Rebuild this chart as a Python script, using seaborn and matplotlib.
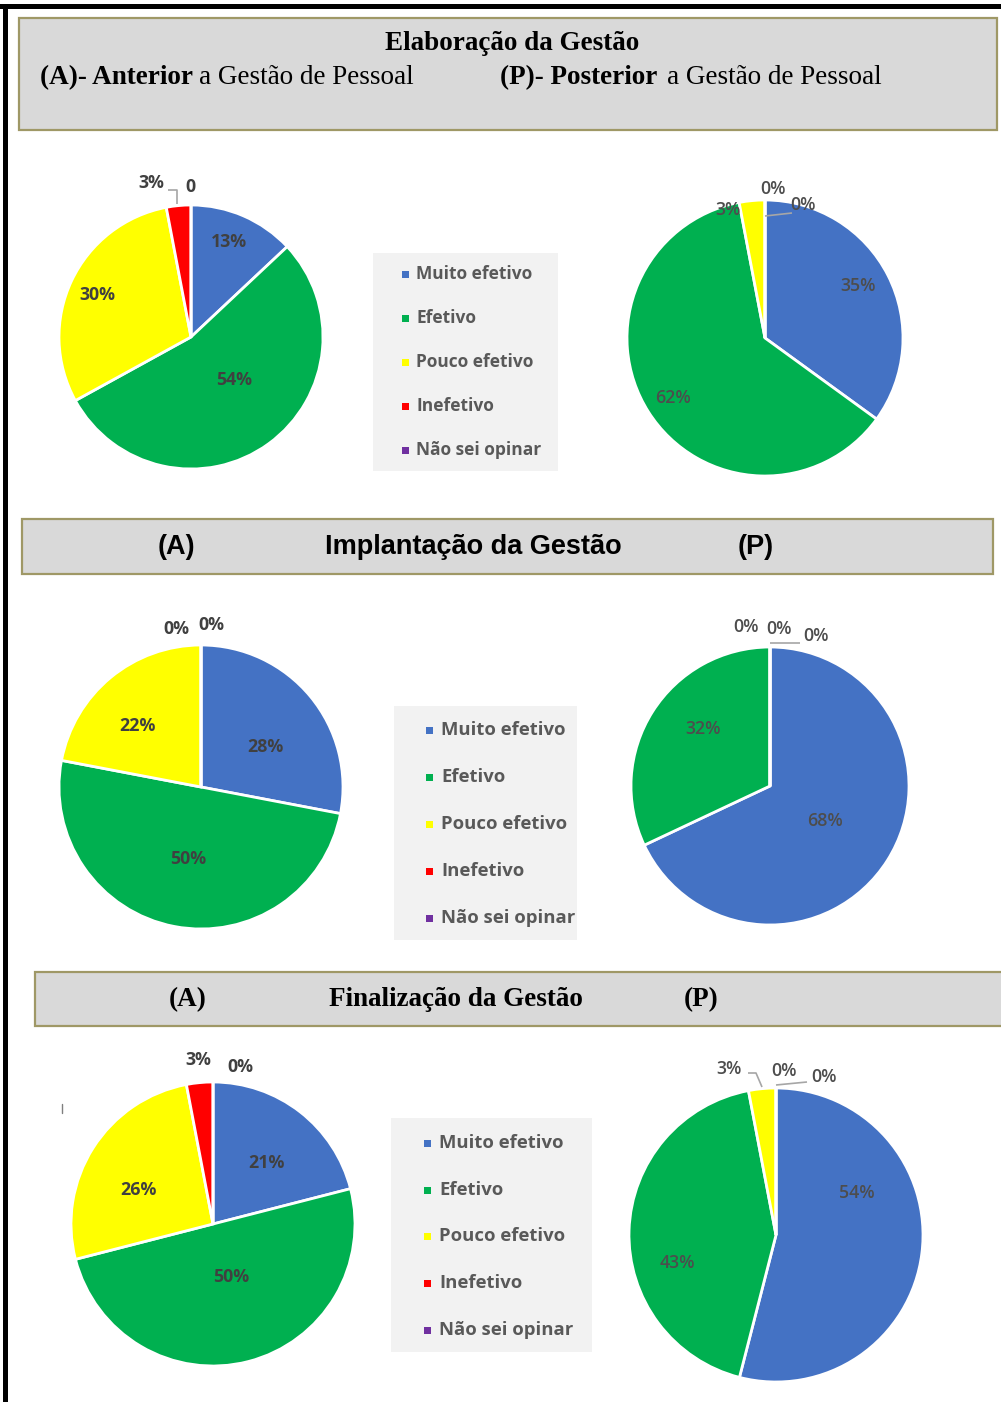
import matplotlib
matplotlib.use("Agg")
import matplotlib.pyplot as plt
import seaborn as sns
from matplotlib.patches import Rectangle

# ---------------- data ----------------
categories = ["Muito efetivo", "Efetivo", "Pouco efetivo", "Inefetivo", "Não sei opinar"]
elab_anterior = [13, 54, 30, 3, 0]
elab_posterior = [35, 62, 3, 0, 0]
impl_anterior = [28, 50, 22, 0, 0]
impl_posterior = [68, 32, 0, 0, 0]
fin_anterior = [21, 50, 26, 3, 0]
fin_posterior = [54, 43, 3, 0, 0]

sns.set_theme(style="white")
palette = sns.color_palette(["#4472c4", "#00b050", "#ffff00", "#ff0000", "#7030a0"])

W, H = 1001, 1402
fig = plt.figure(figsize=(W / 100, H / 100), dpi=100)
fig.patch.set_facecolor("white")

SANS = ["Open Sans", "DejaVu Sans"]
SERIF = ["Liberation Serif", "DejaVu Serif"]
ARIAL = ["Liberation Sans", "DejaVu Sans"]

# background overlay (pixel coordinates)
bg = fig.add_axes([0, 0, 1, 1])
bg.set_xlim(0, W); bg.set_ylim(H, 0); bg.axis("off")

# outer black frame pieces
bg.add_patch(Rectangle((0, 4), W, 4.5, color="black", lw=0))
bg.add_patch(Rectangle((3, 4), 5, H, color="black", lw=0))

BANNER_FC = "#d9d9d9"
BANNER_EC = "#9f9866"

def banner(x0, y0, x1, y1):
    bg.add_patch(Rectangle((x0, y0), x1 - x0, y1 - y0, facecolor=BANNER_FC,
                           edgecolor=BANNER_EC, lw=1.6))

banner(19, 18, 997, 130)
banner(22, 519, 993, 574)
banner(35, 972, 1010, 1026)

FS_T = 19.5
# banner 1 texts
bg.text(512, 43, "Elaboração da Gestão", ha="center", va="center",
        family=SERIF, fontweight="bold", fontsize=FS_T, color="black")
bg.text(40, 78, "(A)- Anterior", ha="left", va="center",
        family=SERIF, fontweight="bold", fontsize=FS_T, color="black")
bg.text(199, 78, "a Gestão de Pessoal", ha="left", va="center",
        family=SERIF, fontsize=FS_T, color="black")
bg.text(500, 78, "(P)- Posterior", ha="left", va="center",
        family=SERIF, fontweight="bold", fontsize=FS_T, color="black")
bg.text(667, 78, "a Gestão de Pessoal", ha="left", va="center",
        family=SERIF, fontsize=FS_T, color="black")

# banner 2 texts
for x, s in [(176, "(A)"), (473, "Implantação da Gestão"), (756, "(P)")]:
    bg.text(x, 547, s, ha="center", va="center", family=ARIAL,
            fontweight="bold", fontsize=FS_T, color="black")

# banner 3 texts
for x, s in [(188, "(A)"), (456, "Finalização da Gestão"), (701, "(P)")]:
    bg.text(x, 1000, s, ha="center", va="center", family=SERIF,
            fontweight="bold", fontsize=FS_T, color="black")

# legend boxes
legends = [
    dict(box=(373, 253, 558, 471), ys=[274, 318, 362, 406, 450], mx=405, tx=416, fs=12.5),
    dict(box=(394, 706, 577, 940), ys=[730, 777, 824, 871, 918], mx=429, tx=441, fs=13.3),
    dict(box=(391, 1118, 592, 1352), ys=[1143, 1190, 1236, 1283, 1330], mx=427, tx=439, fs=13.3),
]
for lg in legends:
    x0, y0, x1, y1 = lg["box"]
    bg.add_patch(Rectangle((x0, y0), x1 - x0, y1 - y0, facecolor="#f2f2f2", lw=0))

# ---------------- pies ----------------
pies = [
    dict(vals=elab_anterior, c=(191, 337), r=132, A=True,
         pos=[(229, 242), (234, 380), (97, 295), (151, 183), (190, 187)], zero_label="0"),
    dict(vals=elab_posterior, c=(765, 338), r=138, A=False,
         pos=[(858, 286), (673, 398), (728, 210), (773, 189), (803, 205)]),
    dict(vals=impl_anterior, c=(201, 787), r=142, A=True,
         pos=[(265, 747), (188, 859), (137, 726), (176, 629), (211, 625)]),
    dict(vals=impl_posterior, c=(770, 786), r=139, A=False,
         pos=[(825, 821), (703, 729), (746, 627), (779, 629), (816, 636)]),
    dict(vals=fin_anterior, c=(213, 1224), r=142, A=True,
         pos=[(266, 1163), (231, 1277), (138, 1190), (198, 1060), (240, 1067)]),
    dict(vals=fin_posterior, c=(776, 1235), r=147, A=False,
         pos=[(857, 1193), (677, 1263), (729, 1069), (784, 1071), (824, 1077)]),
]

for p in pies:
    cx, cy = p["c"]; r = p["r"]
    ax = fig.add_axes([(cx - r) / W, 1 - (cy + r) / H, 2 * r / W, 2 * r / H])
    ax.pie(p["vals"], colors=palette, startangle=90, counterclock=False,
           radius=1, wedgeprops=dict(edgecolor="white", linewidth=2))
    ax.set_xlim(-1.0, 1.0); ax.set_ylim(-1.0, 1.0)
    ax.axis("off")
    for w in ax.patches:
        w.set_clip_on(False)

# ---------------- overlay: labels, leaders, legend items ----------------
ov = fig.add_axes([0, 0, 1, 1])
ov.set_xlim(0, W); ov.set_ylim(H, 0); ov.axis("off"); ov.patch.set_alpha(0)

for p in pies:
    for i, (v, (x, y)) in enumerate(zip(p["vals"], p["pos"])):
        s = f"{v}%"
        if i == 4 and p.get("zero_label"):
            s = p["zero_label"]
        if p["A"]:
            ov.text(x, y, s, ha="center", va="center", family=SANS,
                    fontweight="bold", fontsize=12.8, color="#404040")
        else:
            ov.text(x, y, s, ha="center", va="center", family=SANS,
                    fontweight="semibold", fontsize=12.8, color="#4d4d4d")

LEAD = "#a6a6a6"
leaders = [
    [(168, 190), (177, 190), (177, 204)],
    [(765, 216), (792, 213)],
    [(770, 643), (800, 643)],
    [(748, 1073), (756, 1073), (762, 1087)],
    [(776, 1085), (807, 1082)],
]
for pts in leaders:
    xs, ys = zip(*pts)
    ov.plot(xs, ys, color=LEAD, lw=1.2, solid_capstyle="butt")
ov.plot([62, 62], [1104, 1113], color="#7f7f7f", lw=1)

for lg in legends:
    for cat, col, y in zip(categories, palette, lg["ys"]):
        ov.add_patch(Rectangle((lg["mx"] - 3.5, y - 3.5), 7, 7, facecolor=col, lw=0))
        ov.text(lg["tx"], y, cat, ha="left", va="center", family=SANS,
                fontweight="bold", fontsize=lg["fs"], color="#595959")

fig.savefig("out.png", dpi=100, facecolor="white")
